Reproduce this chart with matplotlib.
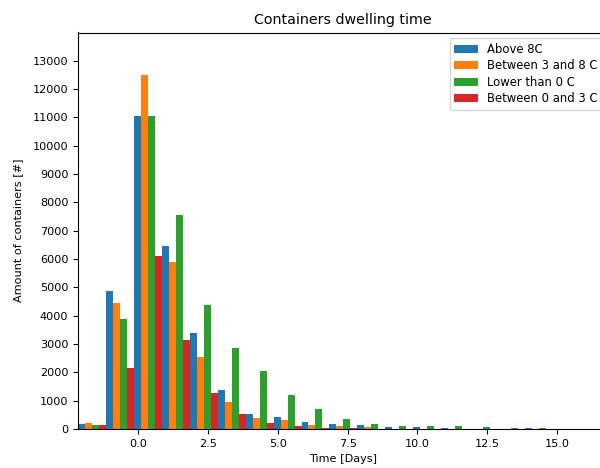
import numpy as np
import matplotlib.pyplot as plt

plt.rcParams['font.size'] = 8.15

# bin index (days); each bin starts 0.15 day before the integer
days = np.arange(-2, 15)
series = ['Above 8C', 'Between 3 and 8 C', 'Lower than 0 C', 'Between 0 and 3 C']
above_8 = [166, 4876, 11040, 6456, 3381, 1367, 541, 424, 247, 166, 130, 85, 55, 45, 0, 0, 45]
between_3_8 = [212, 4452, 12490, 5890, 2555, 965, 378, 318, 130, 94, 80, 15, 10, 0, 0, 0, 0]
lower_0 = [130, 3887, 11040, 7551, 4370, 2851, 2060, 1190, 696, 340, 190, 110, 110, 110, 80, 50, 50]
between_0_3 = [130, 2145, 6113, 3156, 1272, 541, 200, 94, 47, 30, 10, 0, 0, 0, 0, 0, 0]
colors = ['#1f77b4', '#ff7f0e', '#2ca02c', '#d62728']

fig = plt.figure(figsize=(6.0, 4.68), dpi=100)
ax = fig.add_axes([78 / 600, 39 / 468, 530 / 600, 396.5 / 468])

edges = days - 0.15
bw = 0.25
for j, (vals, c, lab) in enumerate(zip([above_8, between_3_8, lower_0, between_0_3], colors, series)):
    ax.bar(edges + j * bw, vals, width=bw, align='edge', color=c, label=lab, linewidth=0)

ax.set_xlim(-2.15, 16.82)
ax.set_ylim(0, 14000)
ax.set_yticks(np.arange(0, 14000, 1000))
ax.set_xticks(np.arange(0, 17.5, 2.5))
ax.set_xlabel('Time [Days]')
ax.set_ylabel('Amount of containers [#]', labelpad=7)
ax.set_title('Containers dwelling time', fontsize=10.3)
ax.legend(loc='upper right', fontsize=8.4, labelspacing=0.3)

plt.savefig('out.png', dpi=100)
